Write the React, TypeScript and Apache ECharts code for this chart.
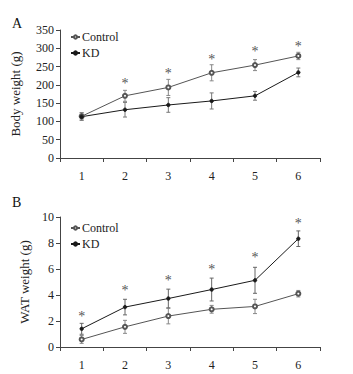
import React, { useEffect, useRef } from "react";
import * as echarts from "echarts";

const categories = ["1", "2", "3", "4", "5", "6"];

const bodyControl = [114, 170, 193, 233, 254, 279];
const bodyControlErr = [10, 15, 22, 22, 15, 10];
const bodyKD = [113, 132, 145, 156, 170, 234];
const bodyKDErr = [10, 20, 20, 22, 12, 12];
const bodyStarIdx = [1, 2, 3, 4, 5];
const bodyStarVal = [204, 232, 268, 291, 305];

const watControl = [0.58, 1.55, 2.38, 2.9, 3.12, 4.1];
const watControlErr = [0.3, 0.5, 0.6, 0.3, 0.55, 0.25];
const watKD = [1.4, 3.07, 3.73, 4.42, 5.13, 8.33];
const watKDErr = [0.42, 0.6, 0.72, 0.88, 1.0, 0.6];
const watStarIdx = [0, 1, 2, 3, 4, 5];
const watStarVal = [2.35, 4.35, 5.1, 5.95, 6.85, 9.5];

const FONT = "Liberation Serif";
const CTRL = "#555";
const KDC = "#1a1a1a";

function errData(vals: number[], errs: number[]) {
  return vals.map((v, i) => [i, v - errs[i], v + errs[i]]);
}

function errorSeries(name: string, vals: number[], errs: number[], idx: number, color: string) {
  return {
    type: "custom",
    name: name + "err",
    xAxisIndex: idx,
    yAxisIndex: idx,
    z: 1,
    silent: true,
    itemStyle: { color },
    data: errData(vals, errs),
    renderItem: (params: any, api: any) => {
      const x = api.value(0);
      const lo = api.coord([x, api.value(1)]);
      const hi = api.coord([x, api.value(2)]);
      const w = 2;
      const st = { stroke: color, lineWidth: 1 };
      return {
        type: "group",
        children: [
          { type: "line", shape: { x1: lo[0], y1: lo[1], x2: hi[0], y2: hi[1] }, style: st },
          { type: "line", shape: { x1: lo[0] - w, y1: lo[1], x2: lo[0] + w, y2: lo[1] }, style: st },
          { type: "line", shape: { x1: hi[0] - w, y1: hi[1], x2: hi[0] + w, y2: hi[1] }, style: st },
        ],
      };
    },
  };
}

function starSeries(idxs: number[], vals: number[], axis: number) {
  return {
    type: "custom",
    name: "stars" + axis,
    xAxisIndex: axis,
    yAxisIndex: axis,
    silent: true,
    itemStyle: { color: "#555" },
    data: idxs.map((c, i) => [c, vals[i]]),
    renderItem: (params: any, api: any) => {
      const p = api.coord([api.value(0), api.value(1)]);
      return {
        type: "text",
        x: p[0],
        y: p[1],
        style: {
          text: "*",
          fill: "#555",
          font: `14px "${FONT}"`,
          align: "center",
          verticalAlign: "middle",
        },
      };
    },
  };
}

function lineSeries(name: string, vals: number[], axis: number, color: string, symbol: string) {
  return {
    type: "line",
    name,
    xAxisIndex: axis,
    yAxisIndex: axis,
    data: vals,
    z: 3,
    symbol,
    symbolSize: symbol === "emptyCircle" ? 4 : 3.5,
    showAllSymbol: true,
    lineStyle: { color, width: 1 },
    itemStyle: { color, borderColor: color, borderWidth: 0.8 },
  };
}

const axisLine = { show: true, lineStyle: { color: "#444", width: 1 } };
const axisLabel = { color: "#222", fontFamily: FONT, fontSize: 12 };

function legendAt(top: number) {
  return {
    data: ["Control", "KD"],
    orient: "vertical",
    left: 70,
    top,
    padding: 0,
    itemWidth: 9,
    itemHeight: 4,
    itemGap: 4,
    textStyle: { fontFamily: FONT, fontSize: 12, color: "#222", padding: [0, 0, 0, -3] },
    selectedMode: false,
  };
}

export default function App() {
  const ref = useRef<HTMLDivElement>(null);
  useEffect(() => {
    if (!ref.current) return;
    const chart = echarts.init(ref.current, null, { renderer: "svg" });
    const xAxisCommon = {
      type: "category",
      data: categories,
      boundaryGap: true,
      axisLine,
      axisTick: { show: true, alignWithLabel: false, length: 4, lineStyle: { color: "#444" } },
      axisLabel: { ...axisLabel, margin: 12 },
    };
    const yName = { fontFamily: FONT, fontSize: 13, color: "#222" };
    chart.setOption({
      animation: false,
      backgroundColor: "#fff",
      textStyle: { fontFamily: FONT },
      grid: [
        { left: 60, top: 30, width: 260, height: 128 },
        { left: 60, top: 217, width: 260, height: 130 },
      ],
      xAxis: [
        { ...xAxisCommon, gridIndex: 0 },
        { ...xAxisCommon, gridIndex: 1 },
      ],
      yAxis: [
        {
          type: "value",
          gridIndex: 0,
          min: 0,
          max: 350,
          interval: 50,
          name: "Body weight (g)",
          nameLocation: "middle",
          nameGap: 38,
          nameTextStyle: yName,
          axisLine,
          axisTick: { show: true, length: 4, lineStyle: { color: "#444" } },
          axisLabel: { ...axisLabel, margin: 6 },
          splitLine: { show: false },
        },
        {
          type: "value",
          gridIndex: 1,
          min: 0,
          max: 10,
          interval: 2,
          name: "WAT weight (g)",
          nameLocation: "middle",
          nameGap: 28,
          nameTextStyle: yName,
          axisLine,
          axisTick: { show: true, length: 4, lineStyle: { color: "#444" } },
          axisLabel: { ...axisLabel, margin: 6 },
          splitLine: { show: false },
        },
      ],
      legend: [legendAt(31), legendAt(222)],
      graphic: [
        { type: "text", left: 12, top: 16, style: { text: "A", font: `14px "${FONT}"`, fill: "#111" } },
        { type: "text", left: 12, top: 195, style: { text: "B", font: `14px "${FONT}"`, fill: "#111" } },
      ],
      series: [
        errorSeries("ca", bodyControl, bodyControlErr, 0, "#888"),
        errorSeries("ka", bodyKD, bodyKDErr, 0, "#777"),
        lineSeries("Control", bodyControl, 0, CTRL, "emptyCircle"),
        lineSeries("KD", bodyKD, 0, KDC, "circle"),
        starSeries(bodyStarIdx, bodyStarVal, 0),
        errorSeries("cb", watControl, watControlErr, 1, "#888"),
        errorSeries("kb", watKD, watKDErr, 1, "#666"),
        lineSeries("Control", watControl, 1, CTRL, "emptyCircle"),
        lineSeries("KD", watKD, 1, KDC, "circle"),
        starSeries(watStarIdx, watStarVal, 1),
      ],
    });
    return () => chart.dispose();
  }, []);
  return (
    <div
      ref={ref}
      style={{ position: "fixed", left: 0, top: 0, width: 353, height: 374 }}
    />
  );
}
